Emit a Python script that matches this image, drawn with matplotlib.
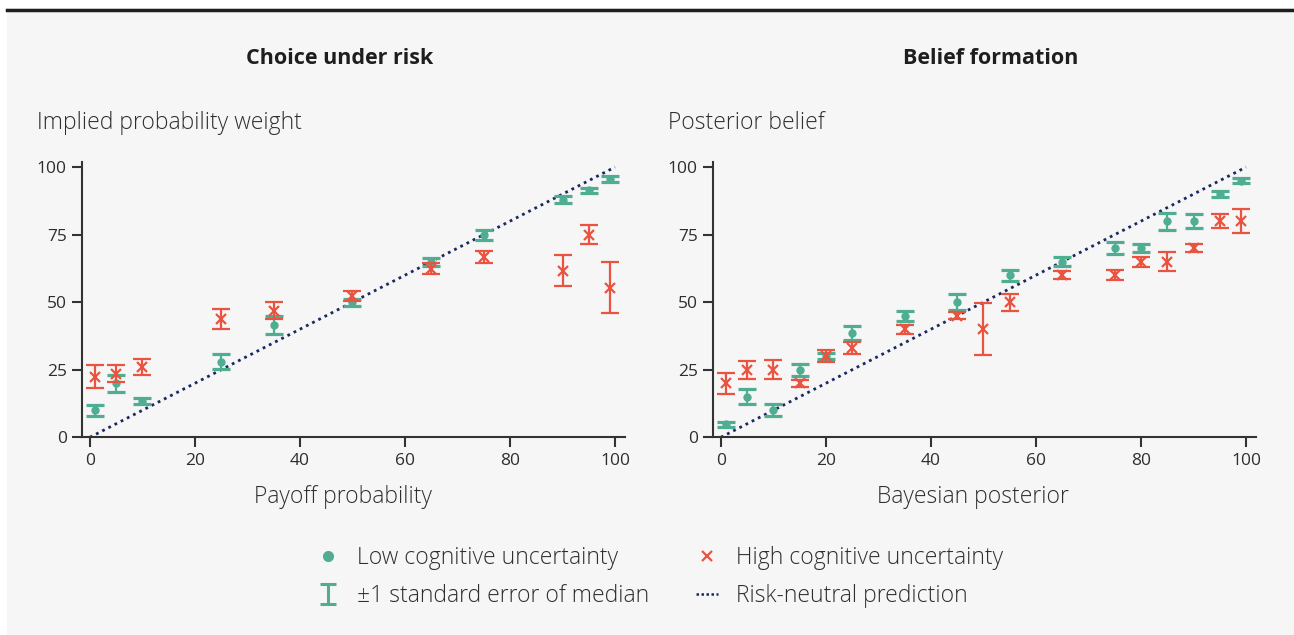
import numpy as np
import matplotlib.pyplot as plt
from matplotlib.lines import Line2D
from matplotlib.patches import Rectangle
from matplotlib.path import Path

plt.rcParams['font.family'] = ['Open Sans', 'DejaVu Sans']

# Choice under risk
risk_x = [1, 5, 10, 25, 35, 50, 65, 75, 90, 95, 99]
risk_low = [10, 20, 13.4, 28, 41.7, 50, 64.8, 75, 88, 91.4, 95.6]
risk_low_se = [2, 3.2, 1.1, 2.7, 3.3, 1.3, 1.5, 1.8, 1.2, 0.9, 1.1]
risk_high = [22.5, 23.6, 26, 43.7, 46.8, 52.3, 62.4, 66.7, 61.7, 75, 55.4]
risk_high_se = [4.3, 3.2, 3, 3.8, 3.2, 1.7, 2, 2.3, 5.8, 3.6, 9.5]

# Belief formation
belief_x = [1, 5, 10, 15, 20, 25, 35, 45, 50, 55, 65, 75, 80, 85, 90, 95, 99]
belief_low = [4.8, 15, 10, 25, 30, 38.5, 45, 50, np.nan, 60, 65, 70, 70, 80, 80, 90, 95]
belief_low_se = [0.9, 2.7, 2.2, 2.2, 1.2, 2.6, 1.8, 3, np.nan, 2, 1.7, 2.2, 1.5, 3.1, 2.5, 1.2, 1]
belief_high = [20, 25, 25, 20, 30, 33, 40, 45, 40, 50, 60, 60, 65, 65, 70, 80, 80]
belief_high_se = [3.8, 3.3, 3.6, 1.2, 2.2, 2.2, 1.7, 1.2, 9.6, 3.2, 1.5, 1.8, 1.9, 3.6, 1.6, 2.7, 4.5]

green = '#4fae92'
red = '#e9533f'
navy = '#1a2862'
bg = '#f6f6f6'
txt = '#2e2e2e'

fig = plt.figure(figsize=(12.94, 6.35), dpi=100)
fig.patch.set_facecolor('white')
fig.add_artist(Rectangle((7 / 1294, 0), 1287 / 1294, 627 / 635, transform=fig.transFigure,
                         facecolor=bg, edgecolor='none', zorder=-5))
fig.add_artist(Line2D([7 / 1294, 1], [1 - 10 / 635, 1 - 10 / 635], transform=fig.transFigure,
                      color='#1e1e1e', lw=2.5))

panels = [
    (82, risk_x, risk_low, risk_low_se, risk_high, risk_high_se,
     'Choice under risk', 340, 'Implied probability weight', 37, 'Payoff probability', 343),
    (713, belief_x, belief_low, belief_low_se, belief_high, belief_high_se,
     'Belief formation', 991, 'Posterior belief', 668, 'Bayesian posterior', 973),
]

for left, x, low, low_se, high, high_se, title, tx, ylab, yx, xlab, xx in panels:
    ax = fig.add_axes([left / 1294, (635 - 437.3) / 635, 543 / 1294, 275.6 / 635])
    ax.set_facecolor(bg)
    ax.plot([0, 100], [0, 100], color=navy, lw=2.0, linestyle=(0, (1, 1.5)), zorder=1)
    ax.errorbar(x, low, yerr=low_se, fmt='o', color=green, ms=5, elinewidth=1.6,
                capsize=6.5, capthick=2.3, zorder=3)
    ax.errorbar(x, high, yerr=high_se, fmt='x', color=red, ms=6.5, mew=1.6, elinewidth=1.6,
                capsize=6.5, capthick=2.3, zorder=4)
    ax.set_xlim(-1.5, 101.9)
    ax.set_ylim(0, 102)
    ax.set_xticks([0, 20, 40, 60, 80, 100])
    ax.set_yticks([0, 25, 50, 75, 100])
    for s in ['top', 'right']:
        ax.spines[s].set_visible(False)
    for s in ['left', 'bottom']:
        ax.spines[s].set_color('#333333')
        ax.spines[s].set_linewidth(1.5)
    ax.tick_params(length=7, width=1.5, color='#333333', labelsize=12.5, labelcolor=txt, pad=4)
    fig.text(tx / 1294, 1 - 58 / 635, title, ha='center', va='center',
             fontsize=15.5, fontweight='bold', color='#1e1e1e')
    fig.text(yx / 1294, 1 - 123 / 635, ylab, ha='left', va='center', fontsize=16.5,
             fontweight='light', color=txt)
    fig.text(xx / 1294, 1 - 497 / 635, xlab, ha='center', va='center', fontsize=16.5,
             fontweight='light', color=txt)

ibeam = Path([(-0.8, 1), (0.8, 1), (0, 1), (0, -1), (-0.8, -1), (0.8, -1)],
             [Path.MOVETO, Path.LINETO, Path.MOVETO, Path.LINETO, Path.MOVETO, Path.LINETO])
handles = [
    Line2D([], [], marker='o', color=green, linestyle='none', ms=7),
    Line2D([], [], marker=ibeam, color=green, mfc='none', mec=green, mew=2.2,
           linestyle='none', ms=15),
    Line2D([], [], marker='x', color=red, linestyle='none', ms=7, mew=1.6),
    Line2D([], [], color=navy, lw=1.8, linestyle=(0, (1, 1))),
]
labels = ['Low cognitive uncertainty', '\u00b11 standard error of median',
          'High cognitive uncertainty', 'Risk-neutral prediction']
leg = fig.legend(handles, labels, ncol=2, loc='center',
                 bbox_to_anchor=(660 / 1294, 1 - 577 / 635),
                 frameon=False, prop={'size': 16.5, 'weight': 'light'},
                 handlelength=0.95, handletextpad=0.8, columnspacing=2.06, labelspacing=0.6)
for t in leg.get_texts():
    t.set_color(txt)

fig.savefig('out.png', dpi=100, facecolor=fig.get_facecolor())
